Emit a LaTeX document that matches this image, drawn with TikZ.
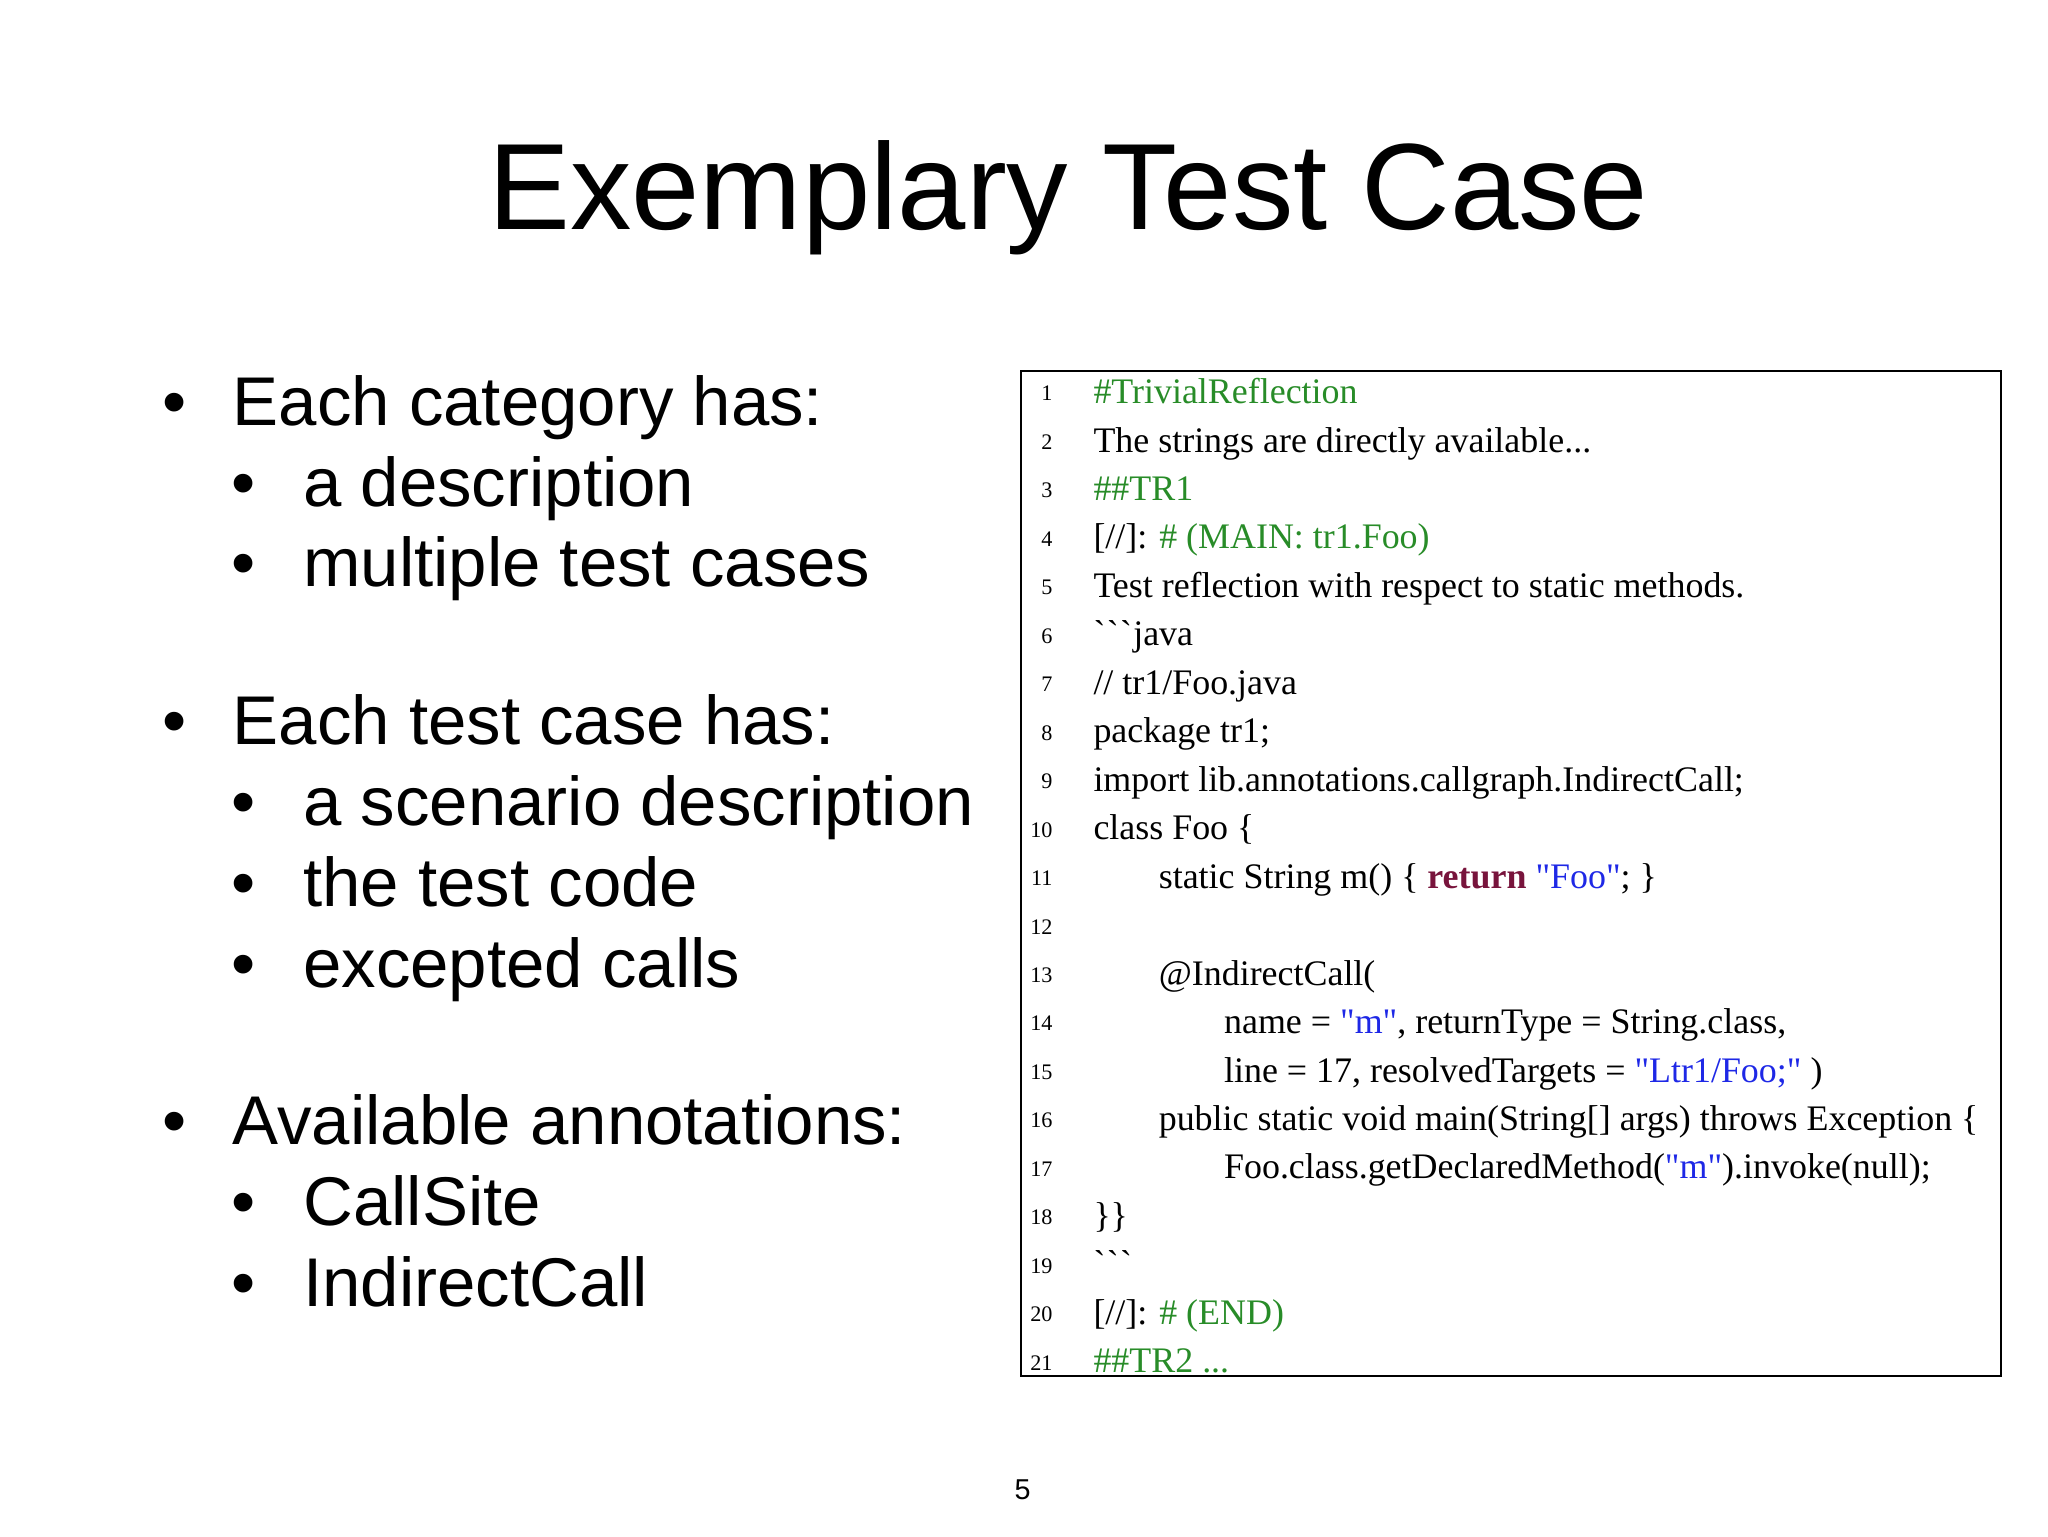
\documentclass[tikz,border=0pt]{standalone}
\usepackage{fontspec}
\setmainfont{Liberation Sans}
\newfontfamily\codefont{Liberation Serif}
\definecolor{cgreen}{RGB}{40,140,40}
\definecolor{cblue}{RGB}{30,40,230}
\definecolor{cred}{RGB}{120,20,60}
\begin{document}
\begin{tikzpicture}[x=1pt,y=-1pt,
  bul/.style={anchor=base west,inner sep=0pt,font=\fontsize{52.8}{52.8}\selectfont},
  cl/.style={anchor=base west,inner sep=0pt,font=\codefont\fontsize{27.5}{27.5}\selectfont},
  ln/.style={anchor=base east,inner sep=0pt,font=\codefont\fontsize{17}{17}\selectfont}]
\useasboundingbox (0,0) rectangle (1568,1176);
\node[anchor=base,inner sep=0pt,font=\fontsize{94}{94}\selectfont] (title) at (818,176) {Exemplary Test Case};
% bullets
\foreach \y/\t [count=\i] in {326/Each category has:,553+17/Each test case has:,859+17/Available annotations:}{
  \node[bul] (bd\i) at (124,\y) {•};
  \node[bul] (b\i) at (178,\y) {\t};
}
\foreach \y/\t [count=\i] in {388/a description,449/multiple test cases,632/a scenario description,694/the test code,756/excepted calls,938/CallSite,1000/IndirectCall}{
  \node[bul] (sd\i) at (177,\y) {•};
  \node[bul] (s\i) at (232,\y) {\t};
}
% code box
\node[draw=black,line width=1.5pt,minimum width=750,minimum height=770,anchor=north west,inner sep=0pt] (box) at (781,283) {};
\foreach \n in {1,...,21}{
  \node[ln] (l\n) at (806,{300+(\n-1)*37.1+7}) {\n};
}
\def\Y#1{{300+(#1-1)*37.1+9}}
\def\bt{\textasciigrave\kern1pt}
\node[cl] (c1) at (837,\Y{1}) {\color{cgreen}\#TrivialReflection};
\node[cl] (c2) at (837,\Y{2}) {The strings are directly available...};
\node[cl] (c3) at (837,\Y{3}) {\color{cgreen}\#\#TR1};
\node[cl] (c4) at (837,\Y{4}) {[//]: {\color{cgreen}\# (MAIN: tr1.Foo)}};
\node[cl] (c5) at (837,\Y{5}) {Test reflection with respect to static methods.};
\node[cl] (c6) at (837,\Y{6}) {\bt\bt\bt java};
\node[cl] (c7) at (837,\Y{7}) {// tr1/Foo.java};
\node[cl] (c8) at (837,\Y{8}) {package tr1;};
\node[cl] (c9) at (837,\Y{9}) {import lib.annotations.callgraph.IndirectCall;};
\node[cl] (c10) at (837,\Y{10}) {class Foo \{};
\node[cl] (c11) at (887,\Y{11}) {static String m() \{ {\color{cred}\bfseries return} {\color{cblue}"Foo"}; \}};
\node[cl] (c13) at (887,\Y{13}) {@IndirectCall(};
\node[cl] (c14) at (937,\Y{14}) {name = {\color{cblue}"m"}, returnType = String.class,};
\node[cl] (c15) at (937,\Y{15}) {line = 17, resolvedTargets = {\color{cblue}"Ltr1/Foo;"} )};
\node[cl] (c16) at (887,\Y{16}) {public static void main(String[] args) throws Exception \{};
\node[cl] (c17) at (937,\Y{17}) {Foo.class.getDeclaredMethod({\color{cblue}"m"}).invoke(null);};
\node[cl] (c18) at (837,\Y{18}) {\}\}};
\node[cl] (c19) at (837,\Y{19}) {\bt\bt\bt};
\node[cl] (c20) at (837,\Y{20}) {[//]: {\color{cgreen}\# (END)}};
\node[cl] (c21) at (837,\Y{21}) {\color{cgreen}\#\#TR2 ...};
\node[anchor=base,inner sep=0pt,font=\fontsize{22}{22}\selectfont] (pg) at (783,1148) {5};
\end{tikzpicture}
\end{document}
